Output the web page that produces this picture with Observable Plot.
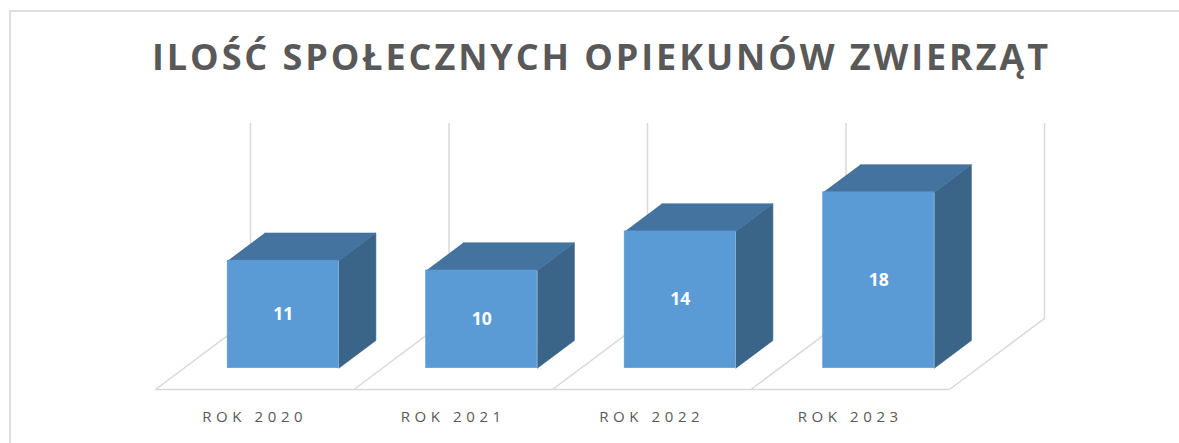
<!DOCTYPE html>
<html>
<head>
<meta charset="utf-8">
<script src="https://cdn.jsdelivr.net/npm/d3@7"></script>
<script src="https://cdn.jsdelivr.net/npm/@observablehq/plot@0.6"></script>
<style>
  html, body { margin: 0; padding: 0; background: #fff; }
  #wrap { position: relative; width: 1179px; height: 443px; overflow: hidden; font-family: "Open Sans", sans-serif; }
  #border { position: absolute; left: 9px; top: 10px; width: 1300px; height: 600px; border-top: 2px solid #dedede; border-left: 2px solid #dedede; box-sizing: border-box; }
  #title { position: absolute; left: 12px; top: 38.7px; width: 1179px; text-align: center; font-size: 36px; line-height: 36px; font-weight: 700; color: #595959; letter-spacing: 2.9px; white-space: nowrap; }
  #chart { position: absolute; left: 0; top: 100px; }
  #chart g[aria-label="x-axis tick label"] text { letter-spacing: 4.6px; }
</style>
</head>
<body>
<div id="wrap">
  <div id="border"></div>
  <div id="title">ILOŚĆ SPOŁECZNYCH OPIEKUNÓW ZWIERZĄT</div>
  <div id="chart"></div>
</div>
<script>
// ---- data ----
const categories = ["ROK 2020", "ROK 2021", "ROK 2022", "ROK 2023"];
const values = [11, 10, 14, 18];
const yMax = 20;

// ---- 3D projection parameters (data units) ----
const DX = 0.4786;   // depth offset along x (category band units)
const DY = 7.27;     // depth offset along y (value units)
const D0 = 0.30, D1 = 0.69;   // bar front/back depth fractions
const B0 = 0.22, B1 = 0.78;   // bar left/right within band

const rows = categories.map((c, i) => ({c, i, v: values[i]}));

const fronts = rows.map(r => ({
  x1: r.i + B0 + D0 * DX, x2: r.i + B1 + D0 * DX,
  y1: D0 * DY, y2: r.v + D0 * DY, c: r.c, v: r.v
}));
const tops = rows.flatMap(r => [
  {id: r.c, x: r.i + B0 + D0 * DX, y: r.v + D0 * DY},
  {id: r.c, x: r.i + B1 + D0 * DX, y: r.v + D0 * DY},
  {id: r.c, x: r.i + B1 + D1 * DX, y: r.v + D1 * DY},
  {id: r.c, x: r.i + B0 + D1 * DX, y: r.v + D1 * DY}
]);
const sides = rows.flatMap(r => [
  {id: r.c, x: r.i + B1 + D0 * DX, y: D0 * DY},
  {id: r.c, x: r.i + B1 + D1 * DX, y: D1 * DY},
  {id: r.c, x: r.i + B1 + D1 * DX, y: r.v + D1 * DY},
  {id: r.c, x: r.i + B1 + D0 * DX, y: r.v + D0 * DY}
]);

const n = categories.length;
const bounds = d3.range(n + 1);
const floorFront = [{x1: 0, y1: 0, x2: n, y2: 0}];
const floorDiag = bounds.map(k => ({x1: k, y1: 0, x2: k + DX, y2: DY}));
const wallLines = bounds.map(k => ({x1: k + DX, y1: DY, x2: k + DX, y2: yMax + DY}));
const grid = [...floorFront, ...floorDiag, ...wallLines];

const chart = Plot.plot({
  width: 1179,
  height: 343,
  marginLeft: 155,
  marginRight: 230,
  marginTop: 93.6,
  marginBottom: 54,
  style: {fontFamily: "'Open Sans', sans-serif", background: "transparent", overflow: "visible"},
  x: {domain: [0, n]},
  y: {domain: [0, yMax], axis: null},
  marks: [
    Plot.link(grid, {x1: "x1", y1: "y1", x2: "x2", y2: "y2", stroke: "#d9d9d9", strokeWidth: 1.5}),
    Plot.line(sides, {x: "x", y: "y", z: "id", fill: "#3A6488", stroke: "#3A6488", strokeWidth: 0.6}),
    Plot.line(tops, {x: "x", y: "y", z: "id", fill: "#44739F", stroke: "#44739F", strokeWidth: 0.6}),
    Plot.rect(fronts, {x1: "x1", x2: "x2", y1: "y1", y2: "y2", fill: "#5B9BD5", stroke: "#5B9BD5", strokeWidth: 0.6}),
    Plot.text(fronts, {x: d => (d.x1 + d.x2) / 2, y: d => (d.y1 + d.y2) / 2, text: d => String(d.v),
      fill: "white", fontWeight: "bold", fontSize: 17.5}),
    Plot.axisX({ticks: categories.map((c, i) => i + 0.5), tickFormat: t => categories[Math.floor(t)],
      tickSize: 0, tickPadding: 22.2, fontSize: 15, fill: "#595959", label: null})
  ]
});
document.getElementById("chart").appendChild(chart);
</script>
</body>
</html>
